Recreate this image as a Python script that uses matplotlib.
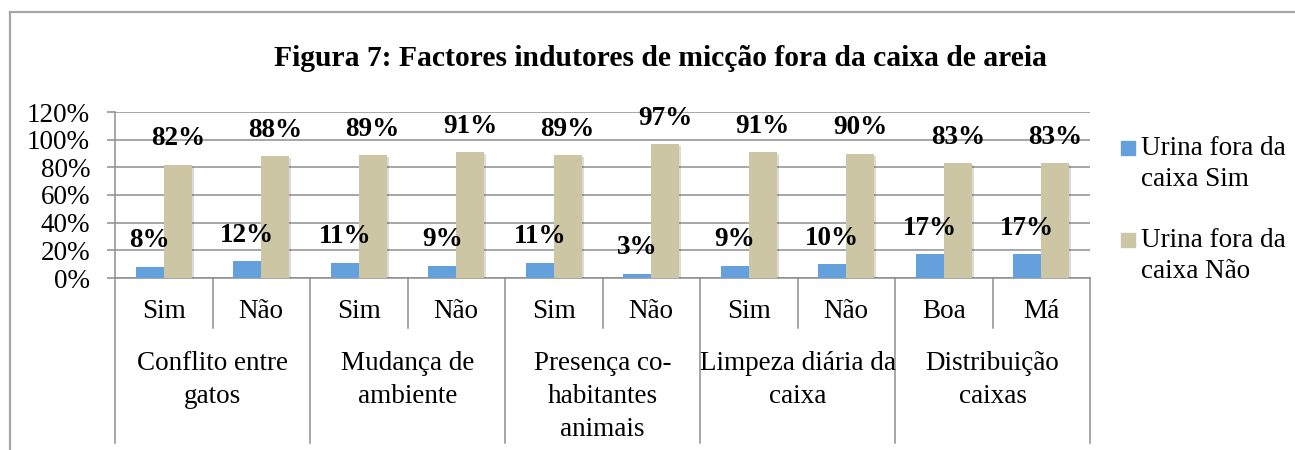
import matplotlib
matplotlib.use('Agg')
import matplotlib.pyplot as plt
import matplotlib.transforms as mtransforms
import matplotlib.patheffects as pe
from matplotlib.patches import Rectangle
import numpy as np

plt.rcParams.update({
    'font.family': ['Liberation Serif', 'DejaVu Serif'],
    'font.size': 19.5,
})

# data
sub_labels = ['Sim', 'Não', 'Sim', 'Não', 'Sim', 'Não', 'Sim', 'Não', 'Boa', 'Má']
groups = ['Conflito entre\ngatos', 'Mudança de\nambiente', 'Presença co-\nhabitantes\nanimais',
          'Limpeza diária da\ncaixa', 'Distribuição\ncaixas']
urina_sim = [8, 12, 11, 9, 11, 3, 9, 10, 17, 17]
urina_nao = [82, 88, 89, 91, 89, 97, 91, 90, 83, 83]
series_names = ['Urina fora da\ncaixa Sim', 'Urina fora da\ncaixa Não']
title = 'Figura 7: Factores indutores de micção fora da caixa de areia'

BLUE, TAN = '#64A0DC', '#CDC6A5'
GRID = '#8E8E8E'
FS = 19.5
W, H = 1295, 450

fig = plt.figure(figsize=(W / 100, H / 100), dpi=100)
# outer chart border
fig.add_artist(plt.Line2D([10 / W, 10 / W], [0, 1 - 12 / H], color='#A6A6A6', lw=1.6))
fig.add_artist(plt.Line2D([10 / W, 1], [1 - 12 / H, 1 - 12 / H], color='#A6A6A6', lw=1.6))

ax = fig.add_axes([115 / W, 1 - 278 / H, (1090 - 115) / W, (278 - 112) / H])
x = np.arange(len(sub_labels))
bw = 0.287
shadow = [pe.SimplePatchShadow(offset=(1.5, -1.5), alpha=0.18), pe.Normal()]
ax.bar(x - bw / 2, urina_sim, bw, color=BLUE, zorder=3, path_effects=shadow)
ax.bar(x + bw / 2, urina_nao, bw, color=TAN, zorder=3, path_effects=shadow)

for xi, v in zip(x, urina_sim):
    ax.annotate(f'{v}%', (xi - bw / 2, v), xytext=(0, 18.8), textcoords='offset points',
                ha='center', va='center', fontsize=FS, fontweight='bold', zorder=5)
for xi, v in zip(x, urina_nao):
    ax.annotate(f'{v}%', (xi + bw / 2, v), xytext=(0, 18.5), textcoords='offset points',
                ha='center', va='center', fontsize=FS, fontweight='bold', zorder=5)

ax.set_xlim(-0.5, len(sub_labels) - 0.5)
ax.set_ylim(0, 120)
ax.set_yticks(np.arange(0, 121, 20))
ax.set_yticklabels([f'{t}%' for t in range(0, 121, 20)])
ax.yaxis.grid(True, color=GRID, lw=1.1, zorder=0)
ax.tick_params(axis='y', length=6, width=1.1, color=GRID, pad=12, labelsize=FS)
ax.set_xticks([])
for s in ['top', 'right']:
    ax.spines[s].set_visible(False)
ax.spines['left'].set_color(GRID)
ax.spines['left'].set_linewidth(1.1)
ax.spines['bottom'].set_color(GRID)
ax.spines['bottom'].set_linewidth(1.1)

# category axis with two levels
trans = mtransforms.blended_transform_factory(ax.transData, ax.transAxes)
ph = 278 - 112
def ay(py):
    return (278 - py) / ph

for b in np.arange(-0.5, len(sub_labels), 1.0):
    is_group = int(round(b + 0.5)) % 2 == 0
    y_end = ay(443) if is_group else ay(328)
    ax.plot([b, b], [0, y_end], color=GRID, lw=1.1, transform=trans, clip_on=False)

for xi, lab in zip(x, sub_labels):
    ax.text(xi, ay(312), lab, transform=trans, ha='center', va='center', fontsize=FS)
for gi, g in enumerate(groups):
    ax.text(2 * gi + 0.5, ay(351), g, transform=trans, ha='center', va='top',
            fontsize=FS, linespacing=1.42)

# title
fig.text(660 / W, 1 - 58 / H, title, ha='center', va='center', fontsize=21.3, fontweight='bold')

# legend
for i, (name, c) in enumerate(zip(series_names, [BLUE, TAN])):
    cy = 148 + 92 * i
    fig.add_artist(Rectangle((1121 / W, 1 - (cy + 7) / H), 14 / W, 14 / H,
                             transform=fig.transFigure, color=c))
    fig.text(1141 / W, 1 - (cy - 12) / H, name, ha='left', va='top', fontsize=FS, linespacing=1.3)

fig.savefig('out.png', dpi=100, facecolor='white')
